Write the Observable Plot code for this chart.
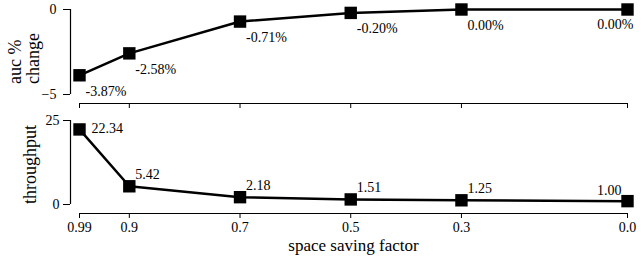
<!DOCTYPE html>
<html>
<head>
<meta charset="utf-8">
<script src="https://cdn.jsdelivr.net/npm/d3@7"></script>
<script src="https://cdn.jsdelivr.net/npm/@observablehq/plot@0.6"></script>
<style>
  html, body { margin: 0; padding: 0; background: #fff; }
  #chart svg { display: block; font-family: "Liberation Serif", serif !important; }
  #chart svg text { font-family: "Liberation Serif", serif !important; }
</style>
</head>
<body>
<div id="chart"></div>
<script>
const factors = [0.99, 0.9, 0.7, 0.5, 0.3, 0.0];
const tickLabels = ["0.99", "0.9", "0.7", "0.5", "0.3", "0.0"];
const aucChange = [-3.87, -2.58, -0.71, -0.20, 0.00, 0.00];
const throughput = [22.34, 5.42, 2.18, 1.51, 1.25, 1.00];
const aucTicks = [-5, 0];
const thrTicks = [0, 25];

const aucData = factors.map((f, i) => ({f, v: aucChange[i], label: aucChange[i].toFixed(2) + "%", i}));
const thrData = factors.map((f, i) => ({f, v: throughput[i], label: throughput[i].toFixed(2), i}));
const last = factors.length - 1;

const font = {fontFamily: "Liberation Serif, serif", fontSize: "14px", background: "#fff", color: "#000"};
const xDomain = [factors[0], factors[last]];

const topPlot = Plot.plot({
  width: 644, height: 110,
  marginLeft: 79, marginRight: 17, marginTop: 9, marginBottom: 16,
  style: font,
  x: {domain: xDomain},
  y: {domain: [aucTicks[0], aucTicks[1]]},
  marks: [
    Plot.ruleX([factors[0]], {y1: aucTicks[0], y2: aucTicks[1], dx: -9, stroke: "#000", strokeWidth: 1.2}),
    Plot.axisY(aucTicks, {anchor: "left", dx: -9, tickSize: 7, tickPadding: 7, label: null, stroke: "#000", fill: "#000"}),
    Plot.ruleY([aucTicks[0]], {x1: factors[0], x2: factors[last], dy: 9, stroke: "#000", strokeWidth: 1.2}),
    Plot.axisX(factors, {anchor: "bottom", dy: 9, tickSize: 5, tickFormat: () => "", label: null, stroke: "#000"}),
    Plot.line(aucData, {x: "f", y: "v", stroke: "#000", strokeWidth: 2.5}),
    Plot.dot(aucData, {x: "f", y: "v", symbol: "square", r: 7, fill: "#000", stroke: null}),
    Plot.text(aucData.filter(d => d.i < last), {x: "f", y: "v", text: "label", textAnchor: "start", dx: 6, dy: 16, fill: "#000"}),
    Plot.text(aucData.filter(d => d.i === last), {x: "f", y: "v", text: "label", textAnchor: "end", dx: 6, dy: 15, fill: "#000"}),
    Plot.text(["auc %\nchange"], {frameAnchor: "left", rotate: -90, textAnchor: "start", lineAnchor: "middle", lineHeight: 1.0, fontSize: 18, dx: -55, dy: 32, fill: "#000"})
  ]
});

const bottomPlot = Plot.plot({
  width: 644, height: 147,
  marginLeft: 79, marginRight: 17, marginTop: 10, marginBottom: 53,
  style: font,
  x: {domain: xDomain},
  y: {domain: [thrTicks[0], thrTicks[1]]},
  marks: [
    Plot.ruleX([factors[0]], {y1: thrTicks[0], y2: thrTicks[1], dx: -9, stroke: "#000", strokeWidth: 1.2}),
    Plot.axisY(thrTicks, {anchor: "left", dx: -9, tickSize: 7, tickPadding: 4, label: null, stroke: "#000", fill: "#000"}),
    Plot.ruleY([thrTicks[0]], {x1: factors[0], x2: factors[last], dy: 9, stroke: "#000", strokeWidth: 1.2}),
    Plot.axisX(factors, {anchor: "bottom", dy: 9, tickSize: 5, tickPadding: 4, tickFormat: (d) => tickLabels[factors.indexOf(d)], label: null, stroke: "#000", fill: "#000"}),
    Plot.line(thrData, {x: "f", y: "v", stroke: "#000", strokeWidth: 2.5}),
    Plot.dot(thrData, {x: "f", y: "v", symbol: "square", r: 7, fill: "#000", stroke: null}),
    Plot.text(thrData.filter(d => d.i === 0), {x: "f", y: "v", text: "label", textAnchor: "start", dx: 12, dy: -1, fill: "#000"}),
    Plot.text(thrData.filter(d => d.i > 0 && d.i < last), {x: "f", y: "v", text: "label", textAnchor: "start", dx: 6, dy: -12, fill: "#000"}),
    Plot.text(thrData.filter(d => d.i === last), {x: "f", y: "v", text: "label", textAnchor: "end", dx: -6, dy: -11, fill: "#000"}),
    Plot.text(["throughput"], {frameAnchor: "left", rotate: -90, textAnchor: "middle", lineAnchor: "middle", fontSize: 18, dx: -49, dy: 2, fill: "#000"}),
    Plot.text(["space saving factor"], {frameAnchor: "bottom", textAnchor: "middle", lineAnchor: "middle", fontSize: 17, dy: 41, fill: "#000"})
  ]
});

document.getElementById("chart").append(topPlot, bottomPlot);
</script>
</body>
</html>
